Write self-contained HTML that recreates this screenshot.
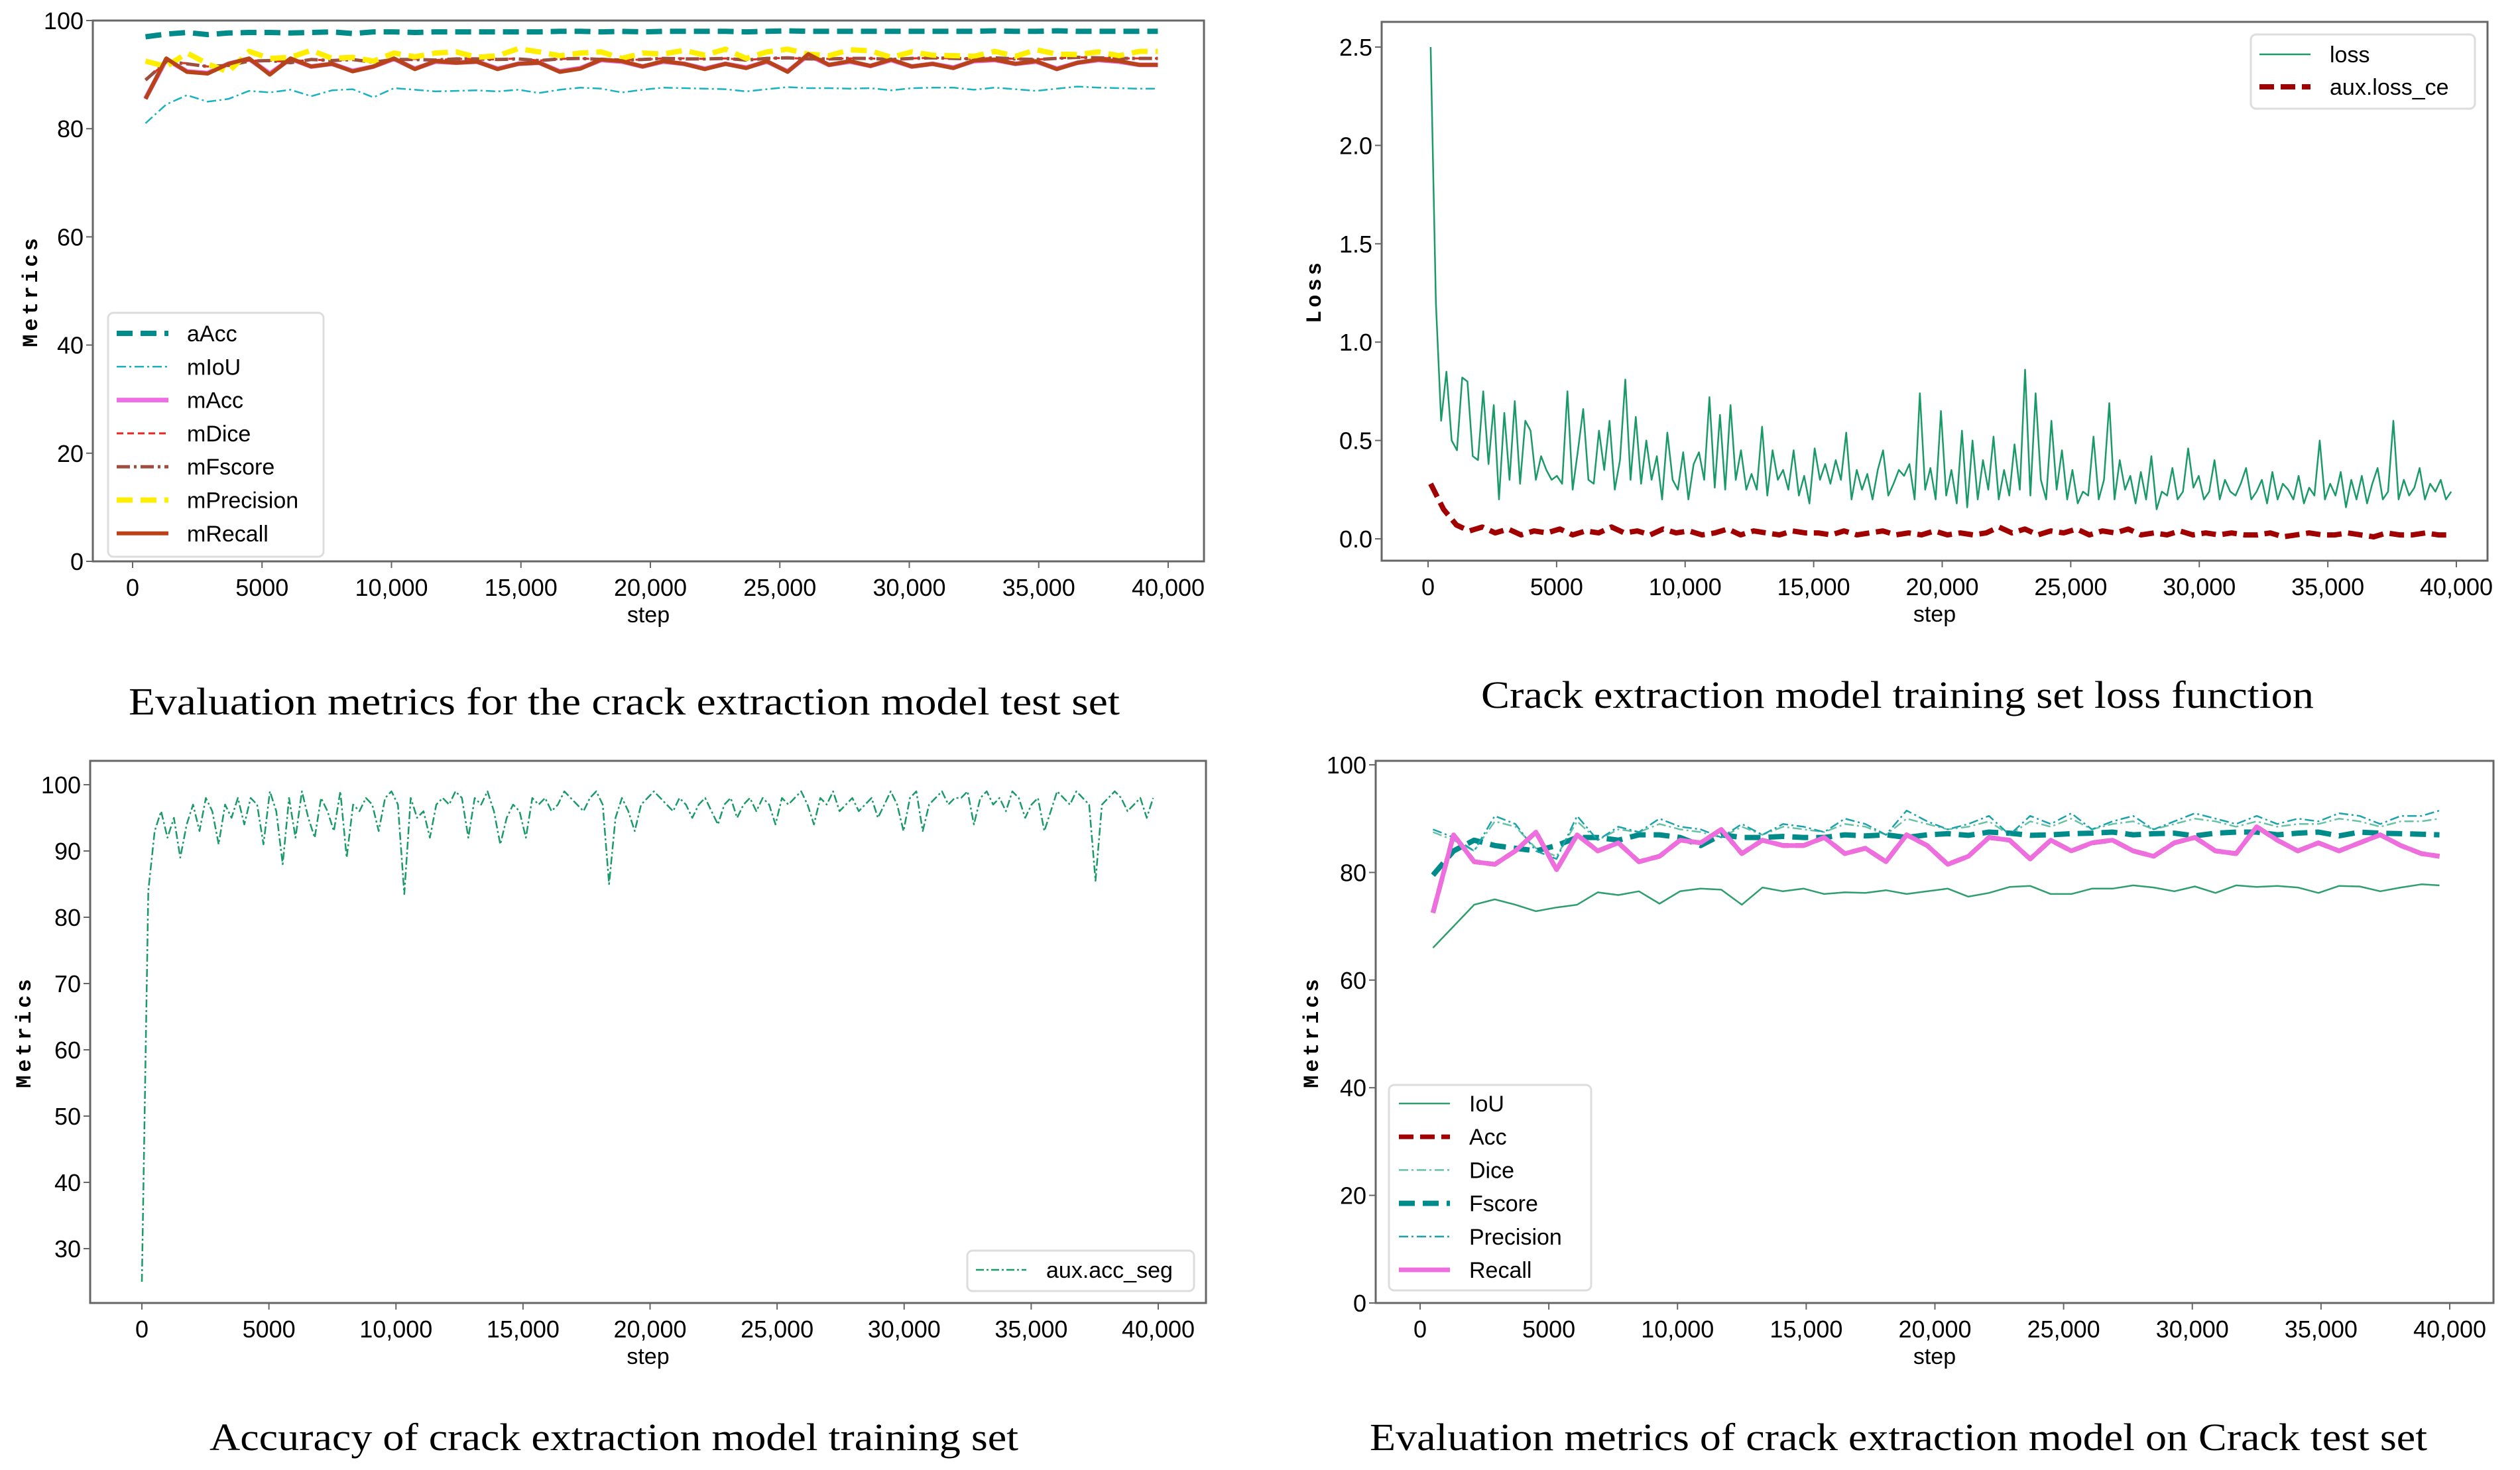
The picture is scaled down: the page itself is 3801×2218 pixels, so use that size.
<!DOCTYPE html>
<html><head><meta charset="utf-8"><style>
html,body{margin:0;padding:0;background:#fff;}
svg{display:block;}
.tk{font-family:"Liberation Sans Narrow","Liberation Sans","Noto Sans CJK SC",sans-serif;font-size:36px;fill:#000;}
.lg{font-family:"Liberation Sans Narrow","Liberation Sans","Noto Sans CJK SC",sans-serif;font-size:34px;fill:#000;}
.ax{font-family:"Liberation Mono",monospace;font-size:32px;fill:#000;letter-spacing:5px;font-weight:bold;}
.cap{font-family:"Liberation Serif",serif;font-size:58px;fill:#000;}
</style></head><body>
<svg id="fig" width="3801" height="2218" viewBox="0 0 3801 2218" xmlns="http://www.w3.org/2000/svg"></svg>
<script>
// ---------- data ----------
const xTickVals=[0,5000,10000,15000,20000,25000,30000,35000,40000];
const xTickLabels=["0","5000","10,000","15,000","20,000","25,000","30,000","35,000","40,000"];
const evalSteps=[500,1300,2100,2900,3700,4500,5300,6100,6900,7700,8500,9300,10100,10900,11700,12500,13300,14100,14900,15700,16500,17300,18100,18900,19700,20500,21300,22100,22900,23700,24500,25300,26100,26900,27700,28500,29300,30100,30900,31700,32500,33300,34100,34900,35700,36500,37300,38100,38900,39600];
// chart 1
const c1aAcc=[97,97.5,97.8,97.4,97.7,97.8,97.8,97.7,97.8,97.9,97.6,97.9,97.9,97.8,97.9,97.9,97.9,97.9,97.9,97.9,98,98,97.9,98,97.9,98,98,98,98,97.9,98,98.1,98,98,98,98,98,98,98,98,98,98.1,98,98,98.1,98,98,98,98,98];
const c1mIoU=[81,84.5,86.2,85,85.5,87,86.7,87.2,86,87.1,87.3,85.8,87.5,87.2,86.9,87,87.1,86.9,87.2,86.6,87.2,87.6,87.4,86.7,87.2,87.6,87.5,87.4,87.3,86.9,87.3,87.7,87.5,87.5,87.4,87.5,87.1,87.5,87.6,87.6,87.2,87.6,87.3,87,87.4,87.8,87.6,87.5,87.4,87.4];
const c1mPrec=[92.5,91.5,94,92,90.5,94.3,93,93.2,94.5,93,93.2,92.5,94,93.3,94,94.2,93.2,93.5,94.8,94.2,93.5,94,94.2,93,94,93.8,94.5,93.6,94.7,93,94.2,94.7,93.8,93.5,94.6,94.4,93.2,94.2,93.6,93.5,93.4,94.3,93.4,94.6,93.8,93.7,94.2,93.5,94.3,94.3];
const c1mFscore=[89,92.4,92,91.5,91.7,92.5,92.6,92.2,92.8,92.6,92.8,92.3,92.8,92.8,92.7,92.9,92.9,92.8,92.9,92.6,92.9,93,92.8,92.7,92.8,93,92.9,92.9,93,92.7,93,93.1,92.9,92.9,93,93,92.8,93,93.1,93,92.9,93.1,92.9,92.8,93,93.2,93.1,93,93,93];
const c1mDice=[89,92.3,92.1,91.5,91.8,92.6,92.6,92.3,92.8,92.6,92.9,92.3,92.8,92.9,92.7,92.9,92.9,92.8,93,92.6,92.9,93,92.8,92.7,92.8,93,93,92.9,93,92.7,93,93.1,92.9,92.9,93,93,92.8,93,93.1,93,92.9,93.1,92.9,92.8,93,93.2,93.1,93,93,93];
const c1mRecall=[85.5,93,90.5,90.2,92,93,90,93,91.5,92,90.6,91.5,93,91,92.5,92.2,92.4,91,92,92.2,90.5,91.1,92.8,92.5,91.5,92.5,92,91,92,91.2,92.5,90.5,93.8,91.8,92.5,91.6,92.8,91.5,92,91.2,92.6,92.8,92,92.5,91,92.2,92.8,92.5,91.8,91.8];
const c1mAcc=[85.6,92.8,90.6,90.3,92,92.9,90.2,92.9,91.5,92,90.7,91.5,92.9,91.1,92.4,92.2,92.4,91.1,92,92.2,90.6,91.2,92.7,92.4,91.5,92.4,92,91.1,92,91.3,92.4,90.6,93.6,91.8,92.4,91.6,92.7,91.5,92,91.3,92.5,92.7,92,92.4,91.1,92.2,92.7,92.4,91.8,91.8];
// chart 2
const lossVals=[2.5,1.2,0.6,0.85,0.5,0.45,0.82,0.8,0.42,0.4,0.75,0.38,0.68,0.2,0.64,0.3,0.7,0.28,0.6,0.55,0.3,0.42,0.35,0.3,0.32,0.28,0.75,0.25,0.45,0.66,0.3,0.28,0.55,0.35,0.6,0.25,0.4,0.81,0.3,0.62,0.28,0.5,0.3,0.42,0.2,0.54,0.3,0.25,0.44,0.2,0.38,0.44,0.3,0.72,0.26,0.63,0.25,0.68,0.3,0.45,0.25,0.33,0.25,0.57,0.22,0.45,0.3,0.35,0.25,0.45,0.22,0.32,0.18,0.46,0.3,0.38,0.28,0.4,0.3,0.54,0.2,0.35,0.25,0.33,0.2,0.35,0.45,0.22,0.28,0.35,0.32,0.38,0.2,0.74,0.25,0.36,0.2,0.65,0.22,0.35,0.18,0.55,0.16,0.5,0.2,0.4,0.25,0.52,0.2,0.35,0.22,0.48,0.25,0.86,0.22,0.74,0.3,0.2,0.6,0.25,0.45,0.2,0.35,0.18,0.24,0.22,0.52,0.2,0.3,0.69,0.2,0.4,0.25,0.32,0.18,0.34,0.2,0.42,0.15,0.24,0.22,0.36,0.2,0.24,0.46,0.26,0.32,0.2,0.24,0.4,0.2,0.3,0.24,0.22,0.28,0.36,0.2,0.24,0.3,0.18,0.34,0.2,0.28,0.25,0.2,0.32,0.18,0.26,0.22,0.5,0.2,0.28,0.22,0.34,0.16,0.3,0.2,0.32,0.18,0.28,0.36,0.2,0.24,0.6,0.2,0.3,0.22,0.26,0.36,0.2,0.28,0.24,0.3,0.2,0.24];
const auxLossVals=[0.28,0.15,0.07,0.04,0.06,0.03,0.05,0.02,0.04,0.03,0.05,0.02,0.04,0.03,0.06,0.03,0.04,0.02,0.05,0.03,0.04,0.02,0.03,0.05,0.02,0.04,0.03,0.02,0.04,0.03,0.03,0.02,0.04,0.02,0.03,0.04,0.02,0.03,0.02,0.04,0.02,0.03,0.02,0.03,0.06,0.03,0.05,0.02,0.04,0.03,0.05,0.02,0.04,0.03,0.05,0.02,0.03,0.02,0.04,0.02,0.03,0.02,0.03,0.02,0.02,0.03,0.01,0.02,0.03,0.02,0.02,0.03,0.02,0.01,0.03,0.02,0.02,0.03,0.02,0.02];
// chart 3
const accSegVals=[25,84,93,96,92,95,89,94,97,93,
98,96,91,97,95,98,94,98,97,91,
99,96,88,98,92,99,95,92,98,96,
93,99,89,97,96,98,97,93,98,99,
97,83.5,98,95,96,92,97,98,97,99,
98,92,98,97,99,96,91,95,97,96,
92,98,97,98,96,97,99,98,97,96,
98,99,97,85,95,98,96,93,97,98,
99,98,97,96,98,97,95,97,98,96,
94,97,98,95,97,98,96,98,97,94,
98,97,98,99,97,94,98,97,99,96,
97,98,96,97,98,95,97,99,97,93,
98,99,93,97,98,99,97,98,98,99,
94,98,99,97,98,96,99,98,95,97,
98,93,96,99,98,97,99,98,97,85.5,
97,98,99,98,96,97,98,95,98];
// chart 4
const c4IoU=[66,70,74,75,74,72.8,73.5,74,76.3,75.8,76.5,74.2,76.5,77,76.8,74,77.2,76.5,77,76,76.3,76.2,76.7,76,76.5,77,75.5,76.2,77.3,77.5,76,76,77,77,77.6,77.2,76.5,77.4,76.2,77.6,77.3,77.5,77.2,76.2,77.5,77.4,76.5,77.2,77.8,77.6];
const c4Prec=[88,86.5,84,90.5,89,84,82.5,90.5,86,88.5,87.5,90,88.5,88,86.5,89,87,89,88.5,87.5,90,89,87,91.5,89.5,88,89,90.5,87,90.5,89,91,88,89.5,90.5,88,89.5,91,90,89,90.5,89,90,89.5,91,90.5,89,90.5,90.5,91.5];
const c4Dice=[87.5,86,84,89.5,88.5,84.5,83,89.5,86,88,87.5,89,88,87.5,86.5,88.5,87,88.5,88,87.5,89,88.5,87,90,89,88,88.5,89.5,87,89.5,88.5,90,88,89,89.5,88,89,90,89.5,88.5,89.5,88.5,89,89,90,89.5,88.5,89.5,89.5,90];
const c4Fscore=[79.5,84,86,85,84.5,84,85,86.5,86.5,86,87,87,86.5,85,87,86.5,86.5,86.7,86.5,86.5,87,86.8,87,86.5,87,87.2,86.9,87.5,87.3,86.9,87,87.2,87.3,87.5,87,87.2,87.3,86.8,87.3,87.5,87.5,87,87.3,87.5,86.8,87.5,87.3,87.2,87.1,87];
const c4Recall=[72.5,87,82,81.5,84,87.5,80.5,87,84,85.5,82,83,86,85.5,88,83.5,86,85,85,86.5,83.5,84.5,82,87,85,81.5,83,86.5,86,82.5,86,84,85.5,86,84,83,85.5,86.5,84,83.5,88.5,86,84,85.5,84,85.5,87,85,83.5,83];
const c4Acc=c4Recall.slice();

// ---------- helpers ----------
const NS="http://www.w3.org/2000/svg";
const svg=document.getElementById('fig');
function mk(tag,attrs,parent){const e=document.createElementNS(NS,tag);for(const k in attrs)e.setAttribute(k,attrs[k]);(parent||svg).appendChild(e);return e;}
function linScale(d0,d1,r0,r1){return v=>r0+(v-d0)*(r1-r0)/(d1-d0);}
function uniformSteps(n,first,last){const a=[];for(let i=0;i<n;i++)a.push(first+(last-first)*i/(n-1));return a;}

function drawPanel(cfg){
  const g=mk('g',{});
  
  
  const sx=linScale(0,40000,cfg.x0,cfg.x40);
  const sy=linScale(cfg.yv0,cfg.yv1,cfg.yp0,cfg.yp1);
  cfg.series.forEach(s=>{
    let d='';
    s.vals.forEach((v,i)=>{d+=(i?'L':'M')+sx(s.xs[i]).toFixed(1)+' '+sy(v).toFixed(1);});
    const p=mk('path',{d:d,fill:'none',stroke:s.color,'stroke-width':s.w,'stroke-dasharray':s.dash||'none','stroke-linejoin':'round'},g);
    
    
  });
  const fr=mk('rect',{x:cfg.L,y:cfg.T,width:cfg.R-cfg.L,height:cfg.B-cfg.T,fill:'none',stroke:'#666','stroke-width':3},g);
  
  
  xTickVals.forEach((v,i)=>{
    const x=sx(v);
    mk('line',{x1:x,y1:cfg.B,x2:x,y2:cfg.B+10,stroke:'#666','stroke-width':2},g);
    const t=mk('text',{x:x,y:cfg.B+52,'text-anchor':'middle',class:'tk'},g);
    t.textContent=xTickLabels[i];
    
    
  });
  cfg.yTicks.forEach((v,i)=>{
    const y=sy(v);
    mk('line',{x1:cfg.L-10,y1:y,x2:cfg.L,y2:y,stroke:'#666','stroke-width':2},g);
    const t=mk('text',{x:cfg.L-14,y:y+13,'text-anchor':'end',class:'tk'},g);
    t.textContent=cfg.yLabels[i];
    
    
  });
  const xl=mk('text',{x:(cfg.L+cfg.R)/2,y:cfg.B+92,'text-anchor':'middle',class:'lg'},g);
  xl.textContent='step';
  
  
  const yl=mk('text',{x:cfg.yTitleX,y:(cfg.T+cfg.B)/2,'text-anchor':'middle',class:'ax',transform:'rotate(-90 '+cfg.yTitleX+' '+((cfg.T+cfg.B)/2)+')'},g);
  yl.textContent=cfg.yTitle;
  
  
  const lg=cfg.legend;
  const lb=mk('rect',{x:lg.x,y:lg.y,width:lg.w,height:lg.h,rx:8,fill:'#fff',stroke:'#ddd','stroke-width':3},g);
  
  
  cfg.series.forEach((s,i)=>{
    const y=lg.ey0+i*lg.gap;
    const ln=mk('line',{x1:lg.lx0,y1:y,x2:lg.lx1,y2:y,stroke:s.color,'stroke-width':s.w,'stroke-dasharray':s.dash||'none'},g);
    
    
    const t=mk('text',{x:lg.tx,y:y+12,class:'lg'},g);
    t.textContent=s.label;
    
    
  });
  const c=mk('text',{x:cfg.cap.x,y:cfg.cap.y,class:'cap',textLength:cfg.cap.w,lengthAdjust:'spacingAndGlyphs'});
  c.textContent=cfg.cap.text;
  
  
}

drawPanel({name:'test-metrics-chart',L:140,R:1816,T:31,B:847,x0:200,x40:1762,yv0:0,yv1:100,yp0:847,yp1:31,
  yTicks:[0,20,40,60,80,100],yLabels:['0','20','40','60','80','100'],yTitle:'Metrics',yTitleX:56,
  series:[
    {id:'aAcc',label:'aAcc',vals:c1aAcc,xs:evalSteps,color:'#008b8b',w:8,dash:'24 12'},
    {id:'mIoU',label:'mIoU',vals:c1mIoU,xs:evalSteps,color:'#17b3bf',w:2.5,dash:'14 5 3 5'},
    {id:'mAcc',label:'mAcc',vals:c1mAcc,xs:evalSteps,color:'#ee6ee6',w:7},
    {id:'mDice',label:'mDice',vals:c1mDice,xs:evalSteps,color:'#e8281e',w:3,dash:'10 6'},
    {id:'mFscore',label:'mFscore',vals:c1mFscore,xs:evalSteps,color:'#9e4e3e',w:5,dash:'20 6 4 6'},
    {id:'mPrecision',label:'mPrecision',vals:c1mPrec,xs:evalSteps,color:'#ffee00',w:8,dash:'24 12'},
    {id:'mRecall',label:'mRecall',vals:c1mRecall,xs:evalSteps,color:'#b84318',w:6}
  ],
  legend:{x:163,y:472,w:325,h:368,ey0:503,gap:50.3,lx0:176,lx1:254,tx:282},
  cap:{x:194,y:1078,w:1495,text:'Evaluation metrics for the crack extraction model test set'}});

drawPanel({name:'training-loss-chart',L:2084,R:3752,T:33,B:846,x0:2154,x40:3705,yv0:0,yv1:2.5,yp0:813,yp1:71,
  yTicks:[0,0.5,1,1.5,2,2.5],yLabels:['0.0','0.5','1.0','1.5','2.0','2.5'],yTitle:'Loss',yTitleX:1992,
  series:[
    {id:'loss',label:'loss',vals:lossVals,xs:uniformSteps(lossVals.length,100,39800),color:'#1a9a68',w:2.5},
    {id:'aux-loss-ce',label:'aux.loss_ce',vals:auxLossVals,xs:uniformSteps(auxLossVals.length,100,39800),color:'#a00000',w:8,dash:'22 10'}
  ],
  legend:{x:3395,y:52,w:338,h:112,ey0:82,gap:49,lx0:3408,lx1:3485,tx:3514},
  cap:{x:2234,y:1068,w:1256,text:'Crack extraction model training set loss function'}});

drawPanel({name:'training-accuracy-chart',L:136,R:1819,T:1148,B:1966,x0:214,x40:1747,yv0:30,yv1:100,yp0:1884,yp1:1184,
  yTicks:[30,40,50,60,70,80,90,100],yLabels:['30','40','50','60','70','80','90','100'],yTitle:'Metrics',yTitleX:46,
  series:[
    {id:'aux-acc-seg',label:'aux.acc_seg',vals:accSegVals,xs:uniformSteps(accSegVals.length,0,39800),color:'#1a9a68',w:2.5,dash:'12 4 3 4'}
  ],
  legend:{x:1459,y:1887,w:342,h:61,ey0:1916,gap:50,lx0:1472,lx1:1548,tx:1578},
  cap:{x:316,y:2188,w:1220,text:'Accuracy of crack extraction model training set'}});

drawPanel({name:'crack-test-metrics-chart',L:2075,R:3761,T:1148,B:1966,x0:2142,x40:3695,yv0:0,yv1:100,yp0:1966,yp1:1154,
  yTicks:[0,20,40,60,80,100],yLabels:['0','20','40','60','80','100'],yTitle:'Metrics',yTitleX:1988,
  series:[
    {id:'IoU',label:'IoU',vals:c4IoU,xs:evalSteps,color:'#2e9e6e',w:2.5},
    {id:'Acc',label:'Acc',vals:c4Acc,xs:evalSteps,color:'#a00000',w:7,dash:'22 10'},
    {id:'Dice',label:'Dice',vals:c4Dice,xs:evalSteps,color:'#66c2a5',w:2.5,dash:'14 5 3 5'},
    {id:'Fscore',label:'Fscore',vals:c4Fscore,xs:evalSteps,color:'#008b8b',w:8,dash:'24 12'},
    {id:'Precision',label:'Precision',vals:c4Prec,xs:evalSteps,color:'#1aa3ad',w:2.5,dash:'14 5 3 5'},
    {id:'Recall',label:'Recall',vals:c4Recall,xs:evalSteps,color:'#ee6ee0',w:7}
  ],
  legend:{x:2095,y:1637,w:305,h:310,ey0:1665,gap:50.2,lx0:2110,lx1:2187,tx:2216},
  cap:{x:2066,y:2188,w:1595,text:'Evaluation metrics of crack extraction model on Crack test set'}});
</script>
</body></html>
